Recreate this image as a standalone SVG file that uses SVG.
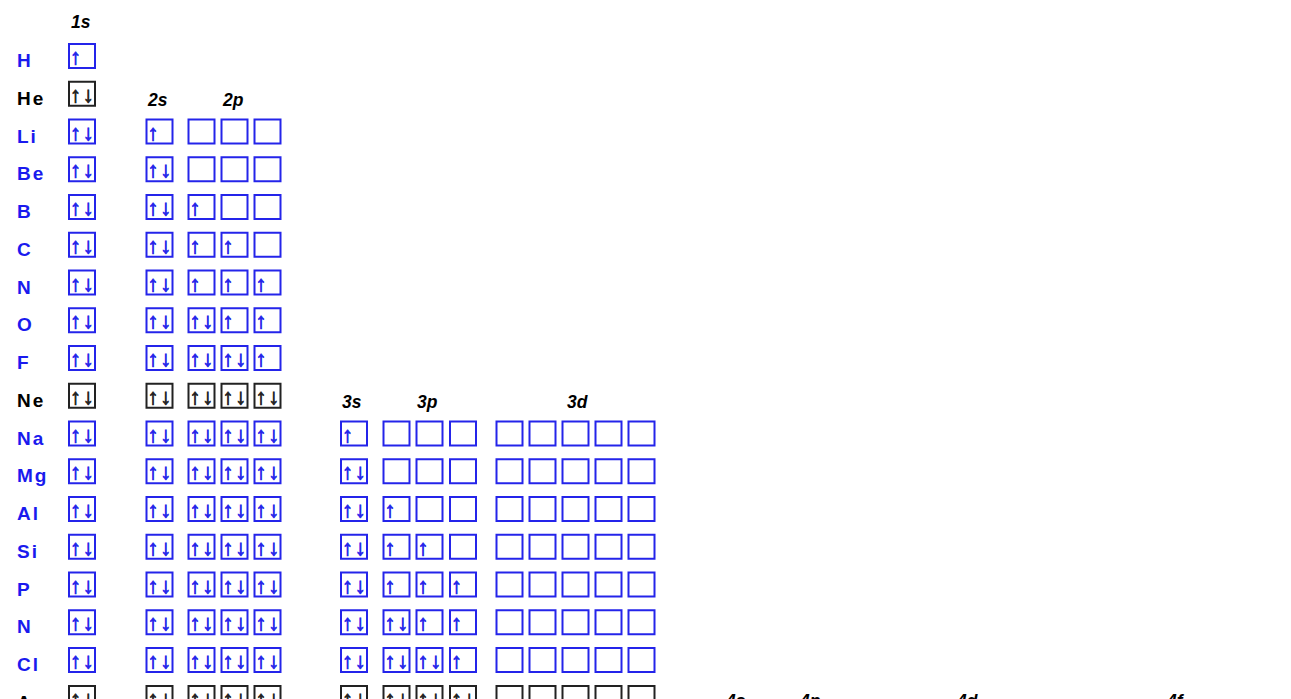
<svg xmlns="http://www.w3.org/2000/svg" width="1291" height="699" viewBox="0 0 1291 699">
<style>
.b{fill:none;stroke:#2424ea;stroke-width:2}
.k .b{stroke:#222}
.u,.d{font-family:"Liberation Sans",Arial,sans-serif;font-size:22px;fill:#2424ea;stroke:#2424ea;stroke-width:0.8;text-anchor:middle}
.d{transform:translate(-0.7px,0)}
.k .u,.k .d{fill:#222;stroke:#222}
.el{font-family:"Liberation Sans",Arial,sans-serif;font-weight:bold;font-size:19px;fill:#1a1aee;letter-spacing:2px}
.k .el{fill:#000}
.h{font-family:"Liberation Sans",Arial,sans-serif;font-weight:bold;font-style:italic;font-size:17.5px;fill:#000}
</style>
<rect width="1291" height="699" fill="#fff"/>
<g id="headers">
<text class="h" x="71" y="28">1s</text>
<text class="h" x="148" y="106">2s</text>
<text class="h" x="223" y="106">2p</text>
<text class="h" x="342" y="408">3s</text>
<text class="h" x="417" y="408">3p</text>
<text class="h" x="567" y="408">3d</text>
<text class="h" x="726" y="707">4s</text>
<text class="h" x="800" y="707">4p</text>
<text class="h" x="957" y="707">4d</text>
<text class="h" x="1167" y="707">4f</text>
</g>
<g id="row-H" transform="translate(0,44)">
<text class="el" x="17" y="23">H</text>
<rect class="b" x="69" y="0" width="26" height="24"/><text class="u" x="75.5" y="20">↑</text>
</g>
<g id="row-He" class="k" transform="translate(0,81.75)">
<text class="el" x="17" y="23">He</text>
<rect class="b" x="69" y="0" width="26" height="24"/><text class="u" x="75.5" y="20">↑</text><text class="d" x="89" y="20">↓</text>
</g>
<g id="row-Li" transform="translate(0,119.5)">
<text class="el" x="17" y="23">Li</text>
<rect class="b" x="69" y="0" width="26" height="24"/><text class="u" x="75.5" y="20">↑</text><text class="d" x="89" y="20">↓</text>
<rect class="b" x="146.5" y="0" width="26" height="24"/><text class="u" x="153" y="20">↑</text>
<rect class="b" x="188.5" y="0" width="26" height="24"/>
<rect class="b" x="221.5" y="0" width="26" height="24"/>
<rect class="b" x="254.5" y="0" width="26" height="24"/>
</g>
<g id="row-Be" transform="translate(0,157.25)">
<text class="el" x="17" y="23">Be</text>
<rect class="b" x="69" y="0" width="26" height="24"/><text class="u" x="75.5" y="20">↑</text><text class="d" x="89" y="20">↓</text>
<rect class="b" x="146.5" y="0" width="26" height="24"/><text class="u" x="153" y="20">↑</text><text class="d" x="166.5" y="20">↓</text>
<rect class="b" x="188.5" y="0" width="26" height="24"/>
<rect class="b" x="221.5" y="0" width="26" height="24"/>
<rect class="b" x="254.5" y="0" width="26" height="24"/>
</g>
<g id="row-B" transform="translate(0,195)">
<text class="el" x="17" y="23">B</text>
<rect class="b" x="69" y="0" width="26" height="24"/><text class="u" x="75.5" y="20">↑</text><text class="d" x="89" y="20">↓</text>
<rect class="b" x="146.5" y="0" width="26" height="24"/><text class="u" x="153" y="20">↑</text><text class="d" x="166.5" y="20">↓</text>
<rect class="b" x="188.5" y="0" width="26" height="24"/><text class="u" x="195" y="20">↑</text>
<rect class="b" x="221.5" y="0" width="26" height="24"/>
<rect class="b" x="254.5" y="0" width="26" height="24"/>
</g>
<g id="row-C" transform="translate(0,232.75)">
<text class="el" x="17" y="23">C</text>
<rect class="b" x="69" y="0" width="26" height="24"/><text class="u" x="75.5" y="20">↑</text><text class="d" x="89" y="20">↓</text>
<rect class="b" x="146.5" y="0" width="26" height="24"/><text class="u" x="153" y="20">↑</text><text class="d" x="166.5" y="20">↓</text>
<rect class="b" x="188.5" y="0" width="26" height="24"/><text class="u" x="195" y="20">↑</text>
<rect class="b" x="221.5" y="0" width="26" height="24"/><text class="u" x="228" y="20">↑</text>
<rect class="b" x="254.5" y="0" width="26" height="24"/>
</g>
<g id="row-N" transform="translate(0,270.5)">
<text class="el" x="17" y="23">N</text>
<rect class="b" x="69" y="0" width="26" height="24"/><text class="u" x="75.5" y="20">↑</text><text class="d" x="89" y="20">↓</text>
<rect class="b" x="146.5" y="0" width="26" height="24"/><text class="u" x="153" y="20">↑</text><text class="d" x="166.5" y="20">↓</text>
<rect class="b" x="188.5" y="0" width="26" height="24"/><text class="u" x="195" y="20">↑</text>
<rect class="b" x="221.5" y="0" width="26" height="24"/><text class="u" x="228" y="20">↑</text>
<rect class="b" x="254.5" y="0" width="26" height="24"/><text class="u" x="261" y="20">↑</text>
</g>
<g id="row-O" transform="translate(0,308.25)">
<text class="el" x="17" y="23">O</text>
<rect class="b" x="69" y="0" width="26" height="24"/><text class="u" x="75.5" y="20">↑</text><text class="d" x="89" y="20">↓</text>
<rect class="b" x="146.5" y="0" width="26" height="24"/><text class="u" x="153" y="20">↑</text><text class="d" x="166.5" y="20">↓</text>
<rect class="b" x="188.5" y="0" width="26" height="24"/><text class="u" x="195" y="20">↑</text><text class="d" x="208.5" y="20">↓</text>
<rect class="b" x="221.5" y="0" width="26" height="24"/><text class="u" x="228" y="20">↑</text>
<rect class="b" x="254.5" y="0" width="26" height="24"/><text class="u" x="261" y="20">↑</text>
</g>
<g id="row-F" transform="translate(0,346)">
<text class="el" x="17" y="23">F</text>
<rect class="b" x="69" y="0" width="26" height="24"/><text class="u" x="75.5" y="20">↑</text><text class="d" x="89" y="20">↓</text>
<rect class="b" x="146.5" y="0" width="26" height="24"/><text class="u" x="153" y="20">↑</text><text class="d" x="166.5" y="20">↓</text>
<rect class="b" x="188.5" y="0" width="26" height="24"/><text class="u" x="195" y="20">↑</text><text class="d" x="208.5" y="20">↓</text>
<rect class="b" x="221.5" y="0" width="26" height="24"/><text class="u" x="228" y="20">↑</text><text class="d" x="241.5" y="20">↓</text>
<rect class="b" x="254.5" y="0" width="26" height="24"/><text class="u" x="261" y="20">↑</text>
</g>
<g id="row-Ne" class="k" transform="translate(0,383.75)">
<text class="el" x="17" y="23">Ne</text>
<rect class="b" x="69" y="0" width="26" height="24"/><text class="u" x="75.5" y="20">↑</text><text class="d" x="89" y="20">↓</text>
<rect class="b" x="146.5" y="0" width="26" height="24"/><text class="u" x="153" y="20">↑</text><text class="d" x="166.5" y="20">↓</text>
<rect class="b" x="188.5" y="0" width="26" height="24"/><text class="u" x="195" y="20">↑</text><text class="d" x="208.5" y="20">↓</text>
<rect class="b" x="221.5" y="0" width="26" height="24"/><text class="u" x="228" y="20">↑</text><text class="d" x="241.5" y="20">↓</text>
<rect class="b" x="254.5" y="0" width="26" height="24"/><text class="u" x="261" y="20">↑</text><text class="d" x="274.5" y="20">↓</text>
</g>
<g id="row-Na" transform="translate(0,421.5)">
<text class="el" x="17" y="23">Na</text>
<rect class="b" x="69" y="0" width="26" height="24"/><text class="u" x="75.5" y="20">↑</text><text class="d" x="89" y="20">↓</text>
<rect class="b" x="146.5" y="0" width="26" height="24"/><text class="u" x="153" y="20">↑</text><text class="d" x="166.5" y="20">↓</text>
<rect class="b" x="188.5" y="0" width="26" height="24"/><text class="u" x="195" y="20">↑</text><text class="d" x="208.5" y="20">↓</text>
<rect class="b" x="221.5" y="0" width="26" height="24"/><text class="u" x="228" y="20">↑</text><text class="d" x="241.5" y="20">↓</text>
<rect class="b" x="254.5" y="0" width="26" height="24"/><text class="u" x="261" y="20">↑</text><text class="d" x="274.5" y="20">↓</text>
<rect class="b" x="341" y="0" width="26" height="24"/><text class="u" x="347.5" y="20">↑</text>
<rect class="b" x="383.5" y="0" width="26" height="24"/>
<rect class="b" x="416.5" y="0" width="26" height="24"/>
<rect class="b" x="450" y="0" width="26" height="24"/>
<rect class="b" x="496.5" y="0" width="26" height="24"/><rect class="b" x="529.5" y="0" width="26" height="24"/><rect class="b" x="562.5" y="0" width="26" height="24"/><rect class="b" x="595.5" y="0" width="26" height="24"/><rect class="b" x="628.5" y="0" width="26" height="24"/>
</g>
<g id="row-Mg" transform="translate(0,459.25)">
<text class="el" x="17" y="23">Mg</text>
<rect class="b" x="69" y="0" width="26" height="24"/><text class="u" x="75.5" y="20">↑</text><text class="d" x="89" y="20">↓</text>
<rect class="b" x="146.5" y="0" width="26" height="24"/><text class="u" x="153" y="20">↑</text><text class="d" x="166.5" y="20">↓</text>
<rect class="b" x="188.5" y="0" width="26" height="24"/><text class="u" x="195" y="20">↑</text><text class="d" x="208.5" y="20">↓</text>
<rect class="b" x="221.5" y="0" width="26" height="24"/><text class="u" x="228" y="20">↑</text><text class="d" x="241.5" y="20">↓</text>
<rect class="b" x="254.5" y="0" width="26" height="24"/><text class="u" x="261" y="20">↑</text><text class="d" x="274.5" y="20">↓</text>
<rect class="b" x="341" y="0" width="26" height="24"/><text class="u" x="347.5" y="20">↑</text><text class="d" x="361" y="20">↓</text>
<rect class="b" x="383.5" y="0" width="26" height="24"/>
<rect class="b" x="416.5" y="0" width="26" height="24"/>
<rect class="b" x="450" y="0" width="26" height="24"/>
<rect class="b" x="496.5" y="0" width="26" height="24"/><rect class="b" x="529.5" y="0" width="26" height="24"/><rect class="b" x="562.5" y="0" width="26" height="24"/><rect class="b" x="595.5" y="0" width="26" height="24"/><rect class="b" x="628.5" y="0" width="26" height="24"/>
</g>
<g id="row-Al" transform="translate(0,497)">
<text class="el" x="17" y="23">Al</text>
<rect class="b" x="69" y="0" width="26" height="24"/><text class="u" x="75.5" y="20">↑</text><text class="d" x="89" y="20">↓</text>
<rect class="b" x="146.5" y="0" width="26" height="24"/><text class="u" x="153" y="20">↑</text><text class="d" x="166.5" y="20">↓</text>
<rect class="b" x="188.5" y="0" width="26" height="24"/><text class="u" x="195" y="20">↑</text><text class="d" x="208.5" y="20">↓</text>
<rect class="b" x="221.5" y="0" width="26" height="24"/><text class="u" x="228" y="20">↑</text><text class="d" x="241.5" y="20">↓</text>
<rect class="b" x="254.5" y="0" width="26" height="24"/><text class="u" x="261" y="20">↑</text><text class="d" x="274.5" y="20">↓</text>
<rect class="b" x="341" y="0" width="26" height="24"/><text class="u" x="347.5" y="20">↑</text><text class="d" x="361" y="20">↓</text>
<rect class="b" x="383.5" y="0" width="26" height="24"/><text class="u" x="390" y="20">↑</text>
<rect class="b" x="416.5" y="0" width="26" height="24"/>
<rect class="b" x="450" y="0" width="26" height="24"/>
<rect class="b" x="496.5" y="0" width="26" height="24"/><rect class="b" x="529.5" y="0" width="26" height="24"/><rect class="b" x="562.5" y="0" width="26" height="24"/><rect class="b" x="595.5" y="0" width="26" height="24"/><rect class="b" x="628.5" y="0" width="26" height="24"/>
</g>
<g id="row-Si" transform="translate(0,534.75)">
<text class="el" x="17" y="23">Si</text>
<rect class="b" x="69" y="0" width="26" height="24"/><text class="u" x="75.5" y="20">↑</text><text class="d" x="89" y="20">↓</text>
<rect class="b" x="146.5" y="0" width="26" height="24"/><text class="u" x="153" y="20">↑</text><text class="d" x="166.5" y="20">↓</text>
<rect class="b" x="188.5" y="0" width="26" height="24"/><text class="u" x="195" y="20">↑</text><text class="d" x="208.5" y="20">↓</text>
<rect class="b" x="221.5" y="0" width="26" height="24"/><text class="u" x="228" y="20">↑</text><text class="d" x="241.5" y="20">↓</text>
<rect class="b" x="254.5" y="0" width="26" height="24"/><text class="u" x="261" y="20">↑</text><text class="d" x="274.5" y="20">↓</text>
<rect class="b" x="341" y="0" width="26" height="24"/><text class="u" x="347.5" y="20">↑</text><text class="d" x="361" y="20">↓</text>
<rect class="b" x="383.5" y="0" width="26" height="24"/><text class="u" x="390" y="20">↑</text>
<rect class="b" x="416.5" y="0" width="26" height="24"/><text class="u" x="423" y="20">↑</text>
<rect class="b" x="450" y="0" width="26" height="24"/>
<rect class="b" x="496.5" y="0" width="26" height="24"/><rect class="b" x="529.5" y="0" width="26" height="24"/><rect class="b" x="562.5" y="0" width="26" height="24"/><rect class="b" x="595.5" y="0" width="26" height="24"/><rect class="b" x="628.5" y="0" width="26" height="24"/>
</g>
<g id="row-P" transform="translate(0,572.5)">
<text class="el" x="17" y="23">P</text>
<rect class="b" x="69" y="0" width="26" height="24"/><text class="u" x="75.5" y="20">↑</text><text class="d" x="89" y="20">↓</text>
<rect class="b" x="146.5" y="0" width="26" height="24"/><text class="u" x="153" y="20">↑</text><text class="d" x="166.5" y="20">↓</text>
<rect class="b" x="188.5" y="0" width="26" height="24"/><text class="u" x="195" y="20">↑</text><text class="d" x="208.5" y="20">↓</text>
<rect class="b" x="221.5" y="0" width="26" height="24"/><text class="u" x="228" y="20">↑</text><text class="d" x="241.5" y="20">↓</text>
<rect class="b" x="254.5" y="0" width="26" height="24"/><text class="u" x="261" y="20">↑</text><text class="d" x="274.5" y="20">↓</text>
<rect class="b" x="341" y="0" width="26" height="24"/><text class="u" x="347.5" y="20">↑</text><text class="d" x="361" y="20">↓</text>
<rect class="b" x="383.5" y="0" width="26" height="24"/><text class="u" x="390" y="20">↑</text>
<rect class="b" x="416.5" y="0" width="26" height="24"/><text class="u" x="423" y="20">↑</text>
<rect class="b" x="450" y="0" width="26" height="24"/><text class="u" x="456.5" y="20">↑</text>
<rect class="b" x="496.5" y="0" width="26" height="24"/><rect class="b" x="529.5" y="0" width="26" height="24"/><rect class="b" x="562.5" y="0" width="26" height="24"/><rect class="b" x="595.5" y="0" width="26" height="24"/><rect class="b" x="628.5" y="0" width="26" height="24"/>
</g>
<g id="row-N2" transform="translate(0,610.25)">
<text class="el" x="17" y="23">N</text>
<rect class="b" x="69" y="0" width="26" height="24"/><text class="u" x="75.5" y="20">↑</text><text class="d" x="89" y="20">↓</text>
<rect class="b" x="146.5" y="0" width="26" height="24"/><text class="u" x="153" y="20">↑</text><text class="d" x="166.5" y="20">↓</text>
<rect class="b" x="188.5" y="0" width="26" height="24"/><text class="u" x="195" y="20">↑</text><text class="d" x="208.5" y="20">↓</text>
<rect class="b" x="221.5" y="0" width="26" height="24"/><text class="u" x="228" y="20">↑</text><text class="d" x="241.5" y="20">↓</text>
<rect class="b" x="254.5" y="0" width="26" height="24"/><text class="u" x="261" y="20">↑</text><text class="d" x="274.5" y="20">↓</text>
<rect class="b" x="341" y="0" width="26" height="24"/><text class="u" x="347.5" y="20">↑</text><text class="d" x="361" y="20">↓</text>
<rect class="b" x="383.5" y="0" width="26" height="24"/><text class="u" x="390" y="20">↑</text><text class="d" x="403.5" y="20">↓</text>
<rect class="b" x="416.5" y="0" width="26" height="24"/><text class="u" x="423" y="20">↑</text>
<rect class="b" x="450" y="0" width="26" height="24"/><text class="u" x="456.5" y="20">↑</text>
<rect class="b" x="496.5" y="0" width="26" height="24"/><rect class="b" x="529.5" y="0" width="26" height="24"/><rect class="b" x="562.5" y="0" width="26" height="24"/><rect class="b" x="595.5" y="0" width="26" height="24"/><rect class="b" x="628.5" y="0" width="26" height="24"/>
</g>
<g id="row-Cl" transform="translate(0,648)">
<text class="el" x="17" y="23">Cl</text>
<rect class="b" x="69" y="0" width="26" height="24"/><text class="u" x="75.5" y="20">↑</text><text class="d" x="89" y="20">↓</text>
<rect class="b" x="146.5" y="0" width="26" height="24"/><text class="u" x="153" y="20">↑</text><text class="d" x="166.5" y="20">↓</text>
<rect class="b" x="188.5" y="0" width="26" height="24"/><text class="u" x="195" y="20">↑</text><text class="d" x="208.5" y="20">↓</text>
<rect class="b" x="221.5" y="0" width="26" height="24"/><text class="u" x="228" y="20">↑</text><text class="d" x="241.5" y="20">↓</text>
<rect class="b" x="254.5" y="0" width="26" height="24"/><text class="u" x="261" y="20">↑</text><text class="d" x="274.5" y="20">↓</text>
<rect class="b" x="341" y="0" width="26" height="24"/><text class="u" x="347.5" y="20">↑</text><text class="d" x="361" y="20">↓</text>
<rect class="b" x="383.5" y="0" width="26" height="24"/><text class="u" x="390" y="20">↑</text><text class="d" x="403.5" y="20">↓</text>
<rect class="b" x="416.5" y="0" width="26" height="24"/><text class="u" x="423" y="20">↑</text><text class="d" x="436.5" y="20">↓</text>
<rect class="b" x="450" y="0" width="26" height="24"/><text class="u" x="456.5" y="20">↑</text>
<rect class="b" x="496.5" y="0" width="26" height="24"/><rect class="b" x="529.5" y="0" width="26" height="24"/><rect class="b" x="562.5" y="0" width="26" height="24"/><rect class="b" x="595.5" y="0" width="26" height="24"/><rect class="b" x="628.5" y="0" width="26" height="24"/>
</g>
<g id="row-Ar" class="k" transform="translate(0,686)">
<text class="el" x="17" y="23">Ar</text>
<rect class="b" x="69" y="0" width="26" height="24"/><text class="u" x="75.5" y="20">↑</text><text class="d" x="89" y="20">↓</text>
<rect class="b" x="146.5" y="0" width="26" height="24"/><text class="u" x="153" y="20">↑</text><text class="d" x="166.5" y="20">↓</text>
<rect class="b" x="188.5" y="0" width="26" height="24"/><text class="u" x="195" y="20">↑</text><text class="d" x="208.5" y="20">↓</text>
<rect class="b" x="221.5" y="0" width="26" height="24"/><text class="u" x="228" y="20">↑</text><text class="d" x="241.5" y="20">↓</text>
<rect class="b" x="254.5" y="0" width="26" height="24"/><text class="u" x="261" y="20">↑</text><text class="d" x="274.5" y="20">↓</text>
<rect class="b" x="341" y="0" width="26" height="24"/><text class="u" x="347.5" y="20">↑</text><text class="d" x="361" y="20">↓</text>
<rect class="b" x="383.5" y="0" width="26" height="24"/><text class="u" x="390" y="20">↑</text><text class="d" x="403.5" y="20">↓</text>
<rect class="b" x="416.5" y="0" width="26" height="24"/><text class="u" x="423" y="20">↑</text><text class="d" x="436.5" y="20">↓</text>
<rect class="b" x="450" y="0" width="26" height="24"/><text class="u" x="456.5" y="20">↑</text><text class="d" x="470" y="20">↓</text>
<rect class="b" x="496.5" y="0" width="26" height="24"/><rect class="b" x="529.5" y="0" width="26" height="24"/><rect class="b" x="562.5" y="0" width="26" height="24"/><rect class="b" x="595.5" y="0" width="26" height="24"/><rect class="b" x="628.5" y="0" width="26" height="24"/>
</g>
</svg>
